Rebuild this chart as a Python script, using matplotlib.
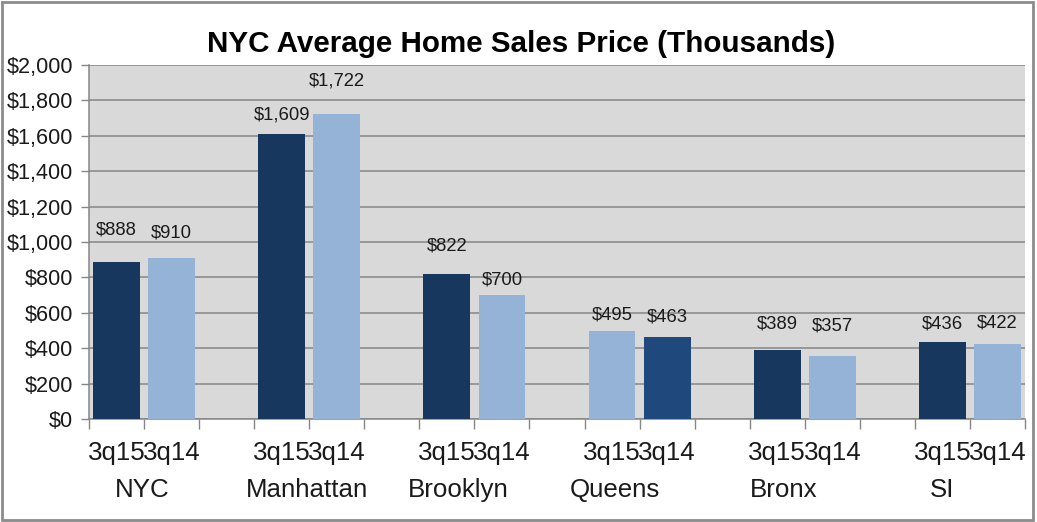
import matplotlib
matplotlib.use("Agg")
import matplotlib.pyplot as plt
from matplotlib.ticker import FuncFormatter, FixedLocator
from matplotlib.patches import Rectangle
import matplotlib.transforms as mtrans

# ---- data ----
groups = ["NYC", "Manhattan", "Brooklyn", "Queens", "Bronx", "SI"]
periods = ["3q15", "3q14"]
values_3q15 = [888, 1609, 822, 495, 389, 436]
values_3q14 = [910, 1722, 700, 463, 357, 422]
yticks = [0, 200, 400, 600, 800, 1000, 1200, 1400, 1600, 1800, 2000]
title = "NYC Average Home Sales Price (Thousands)"

# ---- style ----
dark = "#17375E"
dark2 = "#1F497D"
light = "#95B3D7"
colors_3q15 = [dark, dark, dark, light, dark, dark]
colors_3q14 = [light, light, light, dark2, light, light]
# label offsets above bars (points) mimicking the original placement
off_3q15 = [17, 8, 14, 6, 13, 7]
off_3q14 = [12, 18, 5, 8, 15, 9]
# horizontal placement of group names (slot units)
group_label_x = [0.47, 3.46, 6.2, 9.06, 12.11, 15.0]

plt.rcParams["font.family"] = ["Liberation Sans", "DejaVu Sans"]
txt = "#1a1a1a"
gridc = "#868686"

fig = plt.figure(figsize=(10.37, 5.22), dpi=100)
fig.patch.set_facecolor("white")
ax = fig.add_axes([89 / 1037, 1 - 419 / 522, 936 / 1037, 354 / 522])
ax.set_facecolor("#D9D9D9")

bw = 0.85
pos15 = [3 * i for i in range(len(groups))]
pos14 = [3 * i + 1 for i in range(len(groups))]
b15 = ax.bar(pos15, values_3q15, width=bw, color=colors_3q15, zorder=3)
b14 = ax.bar(pos14, values_3q14, width=bw, color=colors_3q14, zorder=3)

for bars, vals, offs in ((b15, values_3q15, off_3q15), (b14, values_3q14, off_3q14)):
    for r, v, o in zip(bars, vals, offs):
        ax.annotate(f"${v:,}", (r.get_x() + r.get_width() / 2, v),
                    xytext=(0, o), textcoords="offset points",
                    ha="center", va="bottom", fontsize=13.3, color=txt)

ax.set_ylim(0, 2000)
ax.set_xlim(-0.5, 3 * len(groups) - 1.5)
ax.yaxis.set_major_locator(FixedLocator(yticks))
ax.yaxis.set_major_formatter(FuncFormatter(lambda v, p: f"${int(v):,}"))
ax.yaxis.grid(True, color=gridc, linewidth=1.1, zorder=1)
ax.set_axisbelow(True)
ax.tick_params(axis="y", length=6, width=1, color=gridc, pad=5.5,
               labelsize=15.6, labelcolor=txt)

xpos = sorted(pos15 + pos14)
xlabels = [periods[p % 3] for p in xpos]
ax.set_xticks(xpos)
ax.set_xticklabels(xlabels)
ax.tick_params(axis="x", which="major", length=0, pad=16, labelsize=18.6, labelcolor=txt)
ax.set_xticks([k - 0.5 for k in range(3 * len(groups))], minor=True)
ax.tick_params(axis="x", which="minor", length=7, width=1, color=gridc)

trans = mtrans.blended_transform_factory(ax.transData, ax.transAxes)
for g, gx in zip(groups, group_label_x):
    ax.text(gx, -0.2, g, transform=trans, ha="center", va="center",
            fontsize=18.6, color=txt)

for s in ("top", "right"):
    ax.spines[s].set_visible(False)
for s in ("left", "bottom"):
    ax.spines[s].set_color(gridc)
    ax.spines[s].set_linewidth(1.1)

fig.text(521 / 1037, 1 - 44 / 522, title, ha="center", va="center",
         fontsize=21.3, fontweight="bold", color="black")

fig.patches.append(Rectangle((0.002, 0.003), 0.994, 0.993, transform=fig.transFigure,
                             fill=False, edgecolor="#8c8c8c", linewidth=2))

fig.savefig("out.png", dpi=100)
